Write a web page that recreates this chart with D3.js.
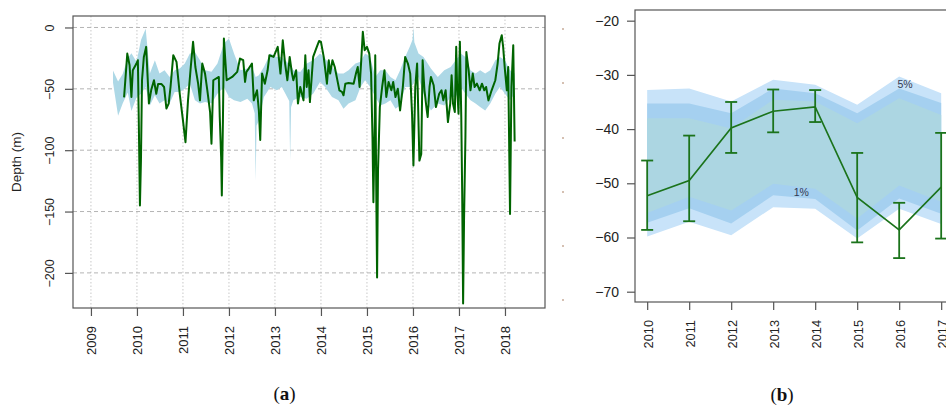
<!DOCTYPE html>
<html>
<head>
<meta charset="utf-8">
<script src="https://cdn.jsdelivr.net/npm/d3@7"></script>
<style>
  body { margin: 0; background: #fff; }
  svg { display: block; font-family: 'Liberation Sans', Arial, sans-serif; }
</style>
</head>
<body>
<div id="chart"></div>
<script>
// ━━━━━━━━━━━━━━━━━━━━━━━━━━━━━━━━━━━━━━━━━━━━━━━━━━━━━━━━━━━━━━━━━━━━━━━━━━━━━━
// Data //////////////////////////////////////////////////////////////////////////
// ━━━━━━━━━━━━━━━━━━━━━━━━━━━━━━━━━━━━━━━━━━━━━━━━━━━━━━━━━━━━━━━━━━━━━━━━━━━━━━

// (a) depth track, decimal year / depth in m
const trackYear = [
  2009.72, 2009.79, 2009.84, 2009.88, 2009.91, 2009.99, 2010.02, 2010.04, 2010.065, 2010.087,
  2010.11, 2010.15, 2010.20, 2010.26, 2010.31, 2010.37, 2010.42, 2010.46, 2010.53, 2010.59,
  2010.64, 2010.69, 2010.73, 2010.79, 2010.86, 2010.93, 2011.00, 2011.055, 2011.11, 2011.17,
  2011.22, 2011.27, 2011.33, 2011.37, 2011.42, 2011.48, 2011.53, 2011.59, 2011.62, 2011.66,
  2011.78, 2011.80, 2011.83, 2011.845, 2011.87, 2011.89, 2011.95, 2012.07, 2012.18, 2012.24,
  2012.31, 2012.35, 2012.38, 2012.43, 2012.50, 2012.54, 2012.61, 2012.65, 2012.68, 2012.72,
  2012.78, 2012.84, 2012.88, 2012.97, 2013.06, 2013.12, 2013.17, 2013.22, 2013.27, 2013.32,
  2013.37, 2013.40, 2013.46, 2013.50, 2013.55, 2013.62, 2013.66, 2013.69, 2013.73, 2013.76,
  2013.83, 2013.91, 2013.96, 2014.00, 2014.06, 2014.13, 2014.17, 2014.20, 2014.25, 2014.30,
  2014.35, 2014.40, 2014.46, 2014.49, 2014.53, 2014.60, 2014.71, 2014.76, 2014.80, 2014.84,
  2014.88, 2014.91, 2014.95, 2015.00, 2015.05, 2015.09, 2015.12, 2015.14, 2015.17, 2015.18,
  2015.20, 2015.22, 2015.24, 2015.28, 2015.33, 2015.38, 2015.42, 2015.47, 2015.53, 2015.57,
  2015.62, 2015.67, 2015.72, 2015.78, 2015.83, 2015.89, 2015.94, 2015.98, 2016.01, 2016.05,
  2016.09, 2016.14, 2016.18, 2016.21, 2016.25, 2016.30, 2016.32, 2016.36, 2016.39, 2016.45,
  2016.50, 2016.57, 2016.62, 2016.66, 2016.71, 2016.76, 2016.81, 2016.84, 2016.87, 2016.91,
  2016.94, 2016.96, 2016.99, 2017.02, 2017.05, 2017.07, 2017.09, 2017.11, 2017.14, 2017.16,
  2017.21, 2017.25, 2017.30, 2017.34, 2017.39, 2017.45, 2017.50, 2017.55, 2017.59, 2017.64,
  2017.71, 2017.79, 2017.84, 2017.88, 2017.93, 2017.96, 2018.00, 2018.04, 2018.07, 2018.11,
  2018.14, 2018.18, 2018.21
];
const trackDepth = [
  -57, -21.3, -30.8, -56.7, -34.9, -29.4, -26.7, -75.8, -145, -108.5,
  -43, -24, -15.8, -62, -51, -43, -54, -46, -46, -48.5,
  -66, -62, -48.5, -22.6, -28, -54, -75.8, -93.5, -59.4, -32.2,
  -11.7, -32.2, -45.8, -59.4, -29.4, -37.6, -51.2, -68.9, -94.8, -43,
  -40.3, -73, -105.7, -137, -73, -9, -43, -40.3, -36.2, -25.3,
  -26.7, -44.4, -36.2, -33.5, -29.4, -59.4, -51.2, -67.6, -91.6, -37.6,
  -45.8, -34.9, -22.6, -24, -15.8, -37.6, -10.4, -29.4, -43, -24,
  -37.6, -43, -34.9, -62, -48.5, -59.4, -22.6, -48.5, -34.9, -60.8,
  -24, -15.8, -11, -11.7, -24, -45.8, -26.7, -37.6, -26.7, -32.2,
  -41.7, -51.2, -52.6, -55.3, -45.8, -45.2, -45.8, -37.6, -32.2, -48.5,
  -24, -3.5, -18.5, -15.8, -21.3, -37.6, -89.4, -142.5, -75.8, -22.6,
  -124.8, -203.8, -116.6, -64.9, -48.5, -34.9, -56.7, -44.4, -51.2, -44.4,
  -56.7, -49.9, -67.6, -48.5, -24, -29.4, -37.6, -70.3, -112.5, -48.5,
  -29.4, -108.5, -103, -26.7, -51.2, -67.6, -73, -48.5, -40.3, -47.1,
  -64.9, -54, -51.2, -59.4, -51.2, -77.1, -62, -39, -62, -68.9,
  -15.8, -48.5, -70.3, -11.7, -73, -135.7, -225, -157.5, -89.4, -19.9,
  -34.9, -51.2, -37.6, -48.5, -45.8, -51.2, -45.8, -51.2, -48.5, -59.4,
  -51.2, -43, -29.4, -13.1, -6.3, -15.8, -34.9, -51.2, -32.2, -152,
  -48.5, -14.4, -93
];

// (a) light blue envelope
const ribbonYear = [
  2009.48, 2009.59, 2009.69, 2009.80, 2009.88, 2009.99, 2010.09, 2010.19, 2010.28, 2010.39,
  2010.49, 2010.60, 2010.71, 2010.82, 2010.93, 2011.04, 2011.15, 2011.26, 2011.37, 2011.48,
  2011.62, 2011.75, 2011.89, 2012.00, 2012.11, 2012.25, 2012.40, 2012.50, 2012.56, 2012.58,
  2012.60, 2012.65, 2012.76, 2012.90, 2013.04, 2013.15, 2013.31, 2013.33, 2013.35, 2013.40,
  2013.55, 2013.69, 2013.83, 2013.98, 2014.09, 2014.24, 2014.38, 2014.49, 2014.60, 2014.75,
  2014.86, 2014.96, 2015.07, 2015.18, 2015.29, 2015.40, 2015.51, 2015.62, 2015.72, 2015.83,
  2015.93, 2015.99, 2016.01, 2016.03, 2016.12, 2016.23, 2016.39, 2016.54, 2016.68, 2016.82,
  2016.93, 2017.04, 2017.14, 2017.25, 2017.36, 2017.46, 2017.57, 2017.68, 2017.79, 2017.89,
  2018.00, 2018.11, 2018.21
];
const ribbonUpper = [
  -35, -44, -38, -25, -21, -28, -10, -1, -37.6, -26.7,
  -37.6, -34.9, -40.3, -34.9, -33.5, -29.4, -21.3, -19.9, -26.7, -34.9,
  -36, -29.4, -13.1, -9, -21.3, -34.9, -33.5, -32.2, -38, -40.3,
  -40, -39, -32.2, -21.3, -24, -24, -30, -30.8, -31, -34.9,
  -36.2, -29.4, -26.7, -21.3, -25.3, -32.2, -37.6, -37.6, -34.9, -29.4,
  -28, -21.3, -24, -40.3, -34.9, -34.9, -40.3, -43, -34.9, -24,
  -15.8, -10, 0, -12, -21.3, -24, -33.5, -40.3, -34.9, -32.2,
  -26.7, -21.3, -24, -34.9, -37.6, -34.9, -37.6, -34.9, -26.7, -24,
  -26.7, -34.9, -37.6
];
const ribbonLower = [
  -45, -72, -62, -53, -68, -57, -54, -48.5, -63.5, -55.3,
  -62, -59.4, -62, -52.6, -52.6, -49.9, -45.8, -59.4, -62, -60.8,
  -62, -54, -48.5, -56.7, -59.4, -60.8, -58, -62, -70, -124.8,
  -80, -75.8, -56.7, -48.5, -51.2, -48.5, -60, -108.5, -65, -59.4,
  -56.7, -58, -54, -44.4, -48.5, -56.7, -59.4, -66.2, -62, -59.4,
  -48.5, -43, -48.5, -56.7, -63.5, -62, -59.4, -66.2, -63.5, -48.5,
  -48.5, -47, -45.8, -44, -40.3, -54, -67.6, -62, -63.5, -56.7,
  -56.7, -48.5, -54, -59.4, -62, -64.9, -67.6, -62, -54, -48.5,
  -54, -59.4, -54
];

const ticksA_x = [2009, 2010, 2011, 2012, 2013, 2014, 2015, 2016, 2017, 2018];
const ticksA_y = [0, -50, -100, -150, -200];

// (b) yearly mean with error bars and percentile bands
const yearsB  = [2010, 2011, 2012, 2013, 2014, 2015, 2016, 2017];
const meanB   = [-52.3, -49.5, -39.8, -36.7, -35.9, -52.6, -58.6, -50.7];
const errHiB  = [-45.8, -41.2, -35.0, -32.7, -32.8, -44.4, -53.6, -40.7];
const errLoB  = [-58.6, -57.0, -44.4, -40.6, -38.7, -60.9, -63.8, -60.2];
const outerHi = [-32.8, -32.5, -34.9, -30.9, -31.8, -35.5, -30.3, -33.4];
const midHi   = [-35.3, -35.3, -37.1, -32.5, -33.4, -37.1, -32.5, -35.2];
const innerHi = [-38.0, -38.0, -39.9, -34.6, -34.9, -38.9, -34.3, -37.4];
const innerLo = [-55.5, -52.5, -55.0, -50.1, -51.0, -56.5, -50.4, -53.4];
const midLo   = [-57.3, -54.6, -57.4, -52.2, -52.9, -58.7, -52.8, -55.6];
const outerLo = [-59.8, -57.1, -59.6, -54.4, -54.7, -60.2, -54.7, -57.5];
const ticksB_y = [-20, -30, -40, -50, -60, -70];

const bandLabels = [
  { text: '5%', year: 2016.14, depth: -31.7 },
  { text: '1%', year: 2013.67, depth: -51.7 }
];

// ━━━━━━━━━━━━━━━━━━━━━━━━━━━━━━━━━━━━━━━━━━━━━━━━━━━━━━━━━━━━━━━━━━━━━━━━━━━━━━
// SVG setup /////////////////////////////////////////////////////////////////////
// ━━━━━━━━━━━━━━━━━━━━━━━━━━━━━━━━━━━━━━━━━━━━━━━━━━━━━━━━━━━━━━━━━━━━━━━━━━━━━━

const width = 946;
const height = 409;

const svg = d3.select('#chart').append('svg')
  .attr('width', width)
  .attr('height', height)
  .attr('viewBox', [0, 0, width, height]);

const axisColor = '#555';
const textColor = '#222';

// ━━━━━━━━━━━━━━━━━━━━━━━━━━━━━━━━━━━━━━━━━━━━━━━━━━━━━━━━━━━━━━━━━━━━━━━━━━━━━━
// Panel (a) /////////////////////////////////////////////////////////////////////
// ━━━━━━━━━━━━━━━━━━━━━━━━━━━━━━━━━━━━━━━━━━━━━━━━━━━━━━━━━━━━━━━━━━━━━━━━━━━━━━

const boxA = { left: 73, right: 545, top: 16, bottom: 308 };
const xA = d3.scaleLinear().domain([2008.61, 2018.87]).range([boxA.left, boxA.right]);
const yA = d3.scaleLinear().domain([-228.6, 9.35]).range([boxA.bottom, boxA.top]);

const panelA = svg.append('g').attr('id', 'panel-a');

// grid
panelA.append('g')
  .selectAll('line')
  .data(ticksA_x)
  .join('line')
  .attr('x1', d => xA(d)).attr('x2', d => xA(d))
  .attr('y1', boxA.top).attr('y2', boxA.bottom)
  .attr('stroke', '#c8c8c8')
  .attr('stroke-width', 1)
  .attr('stroke-dasharray', '1.5,2');

panelA.append('g')
  .selectAll('line')
  .data(ticksA_y)
  .join('line')
  .attr('x1', boxA.left).attr('x2', boxA.right)
  .attr('y1', d => yA(d)).attr('y2', d => yA(d))
  .attr('stroke', '#b4b4b4')
  .attr('stroke-width', 1)
  .attr('stroke-dasharray', '4,3');

// envelope
const ribbon = ribbonYear.map((t, i) => ({ t, hi: ribbonUpper[i], lo: ribbonLower[i] }));
panelA.append('path')
  .datum(ribbon)
  .attr('d', d3.area().x(d => xA(d.t)).y0(d => yA(d.lo)).y1(d => yA(d.hi)))
  .attr('fill', '#add8e6')
  .attr('stroke', 'none');

// track
const track = trackYear.map((t, i) => ({ t, v: trackDepth[i] }));
panelA.append('path')
  .datum(track)
  .attr('d', d3.line().x(d => xA(d.t)).y(d => yA(d.v)))
  .attr('fill', 'none')
  .attr('stroke', '#006400')
  .attr('stroke-width', 2)
  .attr('stroke-linejoin', 'round');

// frame + axes
panelA.append('rect')
  .attr('x', boxA.left).attr('y', boxA.top)
  .attr('width', boxA.right - boxA.left).attr('height', boxA.bottom - boxA.top)
  .attr('fill', 'none')
  .attr('stroke', axisColor)
  .attr('stroke-width', 1.2);

const axisA_y = panelA.append('g').attr('transform', `translate(${boxA.left},0)`)
  .call(d3.axisLeft(yA).tickValues(ticksA_y).tickSize(8).tickFormat(d3.format('d')));
const axisA_x = panelA.append('g').attr('transform', `translate(0,${boxA.bottom})`)
  .call(d3.axisBottom(xA).tickValues(ticksA_x).tickSize(8).tickFormat(d3.format('d')));

[axisA_x, axisA_y].forEach(g => {
  g.select('.domain').remove();
  g.selectAll('.tick line').attr('stroke', axisColor).attr('stroke-width', 1.2);
});

axisA_y.selectAll('.tick text')
  .attr('x', null).attr('dy', null)
  .attr('text-anchor', 'middle')
  .attr('transform', 'translate(-19.5,0) rotate(-90)')
  .attr('font-size', 12.5)
  .attr('fill', textColor);

axisA_x.selectAll('.tick text')
  .attr('y', null).attr('dy', null)
  .attr('text-anchor', 'end')
  .attr('transform', 'translate(5,18) rotate(-90)')
  .attr('font-size', 13)
  .attr('fill', textColor);

panelA.append('text')
  .attr('transform', `translate(21,${(boxA.top + boxA.bottom) / 2}) rotate(-90)`)
  .attr('text-anchor', 'middle')
  .attr('font-size', 13.5)
  .attr('fill', textColor)
  .text('Depth (m)');

// small marks left over at the right of panel (a)
panelA.append('g')
  .selectAll('circle')
  .data([29, 83, 138, 192, 246, 300])
  .join('circle')
  .attr('cx', 563).attr('cy', d => d)
  .attr('r', 0.8)
  .attr('fill', '#a07050');

// ━━━━━━━━━━━━━━━━━━━━━━━━━━━━━━━━━━━━━━━━━━━━━━━━━━━━━━━━━━━━━━━━━━━━━━━━━━━━━━
// Panel (b) /////////////////////////////////////////////////////////////////////
// ━━━━━━━━━━━━━━━━━━━━━━━━━━━━━━━━━━━━━━━━━━━━━━━━━━━━━━━━━━━━━━━━━━━━━━━━━━━━━━

const boxB = { left: 635, top: 10, bottom: 302 };
const xB = d3.scaleLinear().domain([2009.71, 2018.32]).range([boxB.left, boxB.left + 8.61 * 42]);
const yB = d3.scaleLinear().domain([-71.9, -18.03]).range([boxB.bottom, boxB.top]);

const panelB = svg.append('g').attr('id', 'panel-b');

const bandRows = yearsB.map((t, i) => ({
  t,
  outerHi: outerHi[i], midHi: midHi[i], innerHi: innerHi[i],
  innerLo: innerLo[i], midLo: midLo[i], outerLo: outerLo[i]
}));

const bands = [
  { hi: 'outerHi', lo: 'outerLo', fill: '#c8e3f9' },
  { hi: 'midHi',   lo: 'midLo',   fill: '#a5d0f0' },
  { hi: 'innerHi', lo: 'innerLo', fill: '#acd6e2' }
];

panelB.append('g')
  .selectAll('path')
  .data(bands)
  .join('path')
  .attr('d', b => d3.area().x(d => xB(d.t)).y0(d => yB(d[b.lo])).y1(d => yB(d[b.hi]))(bandRows))
  .attr('fill', b => b.fill);

panelB.append('g')
  .selectAll('text')
  .data(bandLabels)
  .join('text')
  .attr('x', d => xB(d.year))
  .attr('y', d => yB(d.depth))
  .attr('dy', '0.35em')
  .attr('text-anchor', 'middle')
  .attr('font-size', 10.5)
  .attr('fill', '#333a50')
  .text(d => d.text);

// mean line + error bars
const lineColor = '#1b731b';
const stats = yearsB.map((t, i) => ({ t, m: meanB[i], hi: errHiB[i], lo: errLoB[i] }));

panelB.append('path')
  .datum(stats)
  .attr('d', d3.line().x(d => xB(d.t)).y(d => yB(d.m)))
  .attr('fill', 'none')
  .attr('stroke', lineColor)
  .attr('stroke-width', 1.6);

const errs = panelB.append('g')
  .attr('stroke', lineColor)
  .attr('stroke-width', 1.8)
  .selectAll('g')
  .data(stats)
  .join('g');

errs.append('line')
  .attr('x1', d => xB(d.t)).attr('x2', d => xB(d.t))
  .attr('y1', d => yB(d.hi)).attr('y2', d => yB(d.lo));
errs.append('line')
  .attr('x1', d => xB(d.t) - 6).attr('x2', d => xB(d.t) + 6)
  .attr('y1', d => yB(d.hi)).attr('y2', d => yB(d.hi));
errs.append('line')
  .attr('x1', d => xB(d.t) - 6).attr('x2', d => xB(d.t) + 6)
  .attr('y1', d => yB(d.lo)).attr('y2', d => yB(d.lo));

// frame + axes
panelB.append('rect')
  .attr('x', boxB.left).attr('y', boxB.top)
  .attr('width', xB.range()[1] - boxB.left).attr('height', boxB.bottom - boxB.top)
  .attr('fill', 'none')
  .attr('stroke', axisColor)
  .attr('stroke-width', 1.2);

const axisB_y = panelB.append('g').attr('transform', `translate(${boxB.left},0)`)
  .call(d3.axisLeft(yB).tickValues(ticksB_y).tickSize(8).tickPadding(8).tickFormat(d3.format('d')));
const axisB_x = panelB.append('g').attr('transform', `translate(0,${boxB.bottom})`)
  .call(d3.axisBottom(xB).tickValues(yearsB).tickSize(8).tickFormat(d3.format('d')));

[axisB_x, axisB_y].forEach(g => {
  g.select('.domain').remove();
  g.selectAll('.tick line').attr('stroke', axisColor).attr('stroke-width', 1.2);
});

axisB_y.selectAll('.tick text')
  .attr('font-size', 14)
  .attr('fill', textColor);

axisB_x.selectAll('.tick text')
  .attr('y', null).attr('dy', null)
  .attr('text-anchor', 'end')
  .attr('transform', 'translate(5.5,18) rotate(-90)')
  .attr('font-size', 12.8)
  .attr('fill', textColor);

// ━━━━━━━━━━━━━━━━━━━━━━━━━━━━━━━━━━━━━━━━━━━━━━━━━━━━━━━━━━━━━━━━━━━━━━━━━━━━━━
// Captions //////////////////////////////////////////////////////////////////////
// ━━━━━━━━━━━━━━━━━━━━━━━━━━━━━━━━━━━━━━━━━━━━━━━━━━━━━━━━━━━━━━━━━━━━━━━━━━━━━━

[{ x: 284.5, y: 400, letter: 'a' }, { x: 782, y: 401, letter: 'b' }].forEach(c => {
  const t = svg.append('text')
    .attr('x', c.x).attr('y', c.y)
    .attr('text-anchor', 'middle')
    .attr('font-family', "'Liberation Serif', 'Times New Roman', serif")
    .attr('font-size', 19)
    .attr('fill', '#111');
  t.append('tspan').text('(');
  t.append('tspan').attr('font-weight', 'bold').text(c.letter);
  t.append('tspan').text(')');
});
</script>
</body>
</html>
